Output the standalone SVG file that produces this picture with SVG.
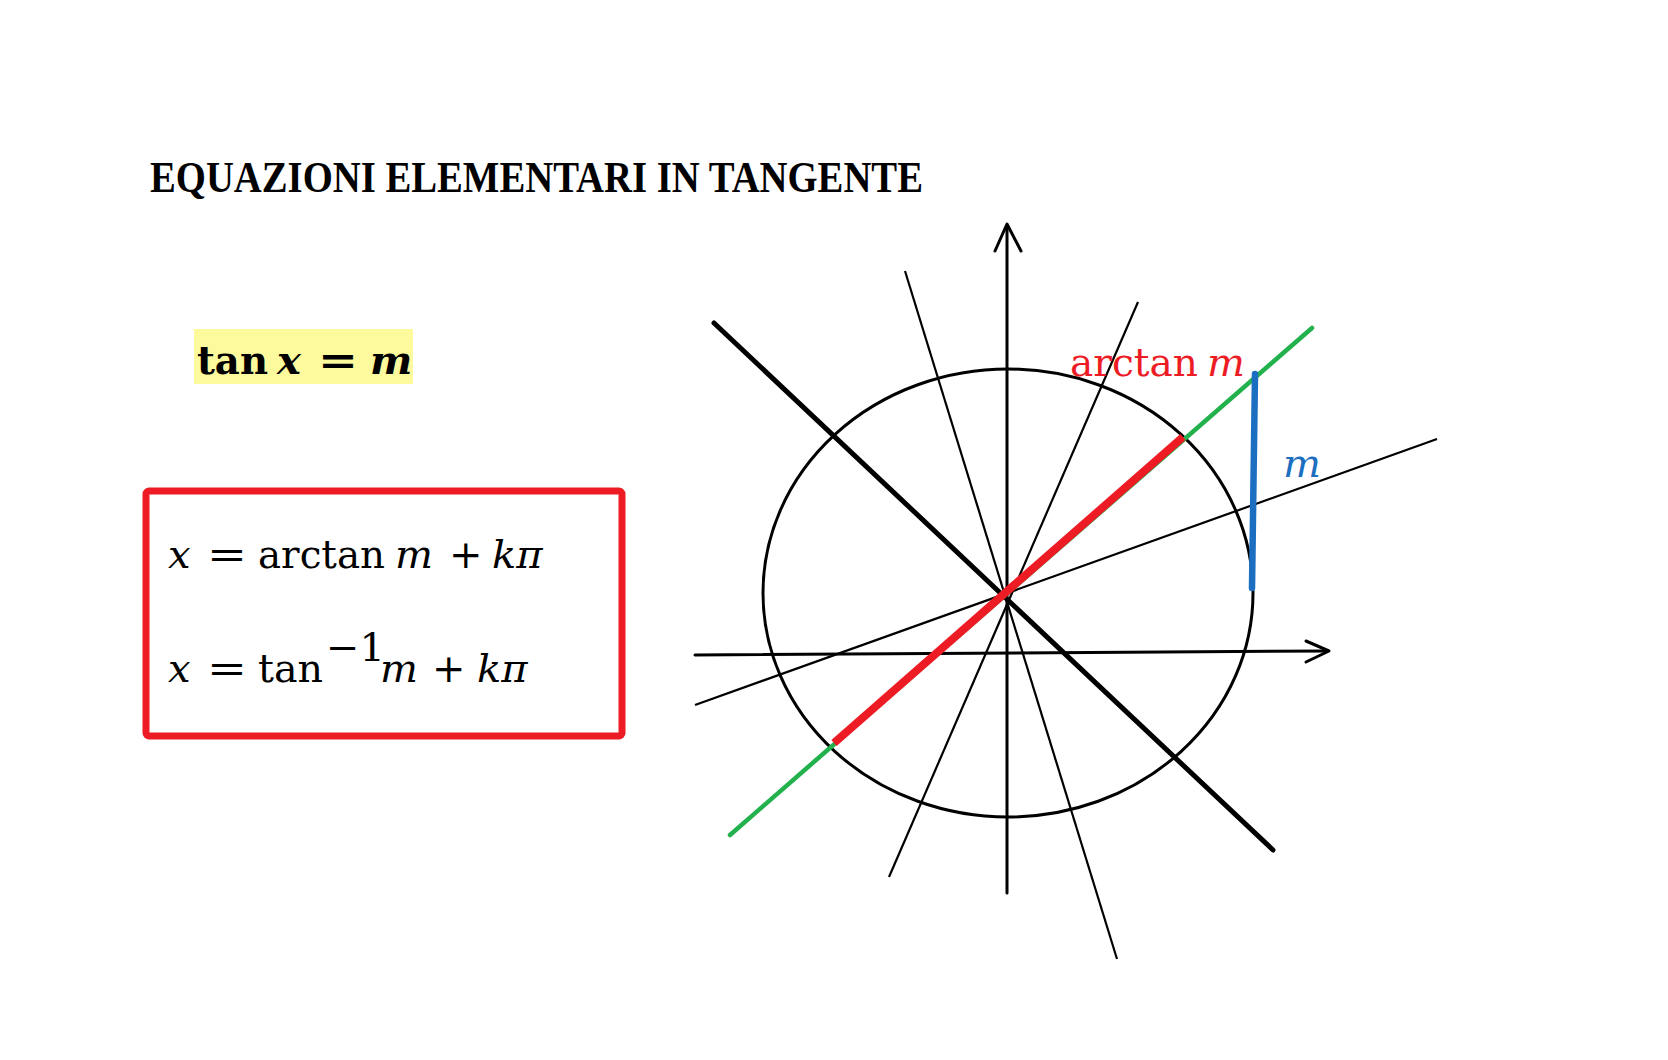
<svg xmlns="http://www.w3.org/2000/svg" width="1668" height="1060" viewBox="0 0 1668 1060">
<style>
.math{font-family:"DejaVu Serif","Liberation Serif",serif;font-size:40px;fill:#000}
.it{font-style:italic}
.ax{stroke:#000;stroke-width:3;fill:none;stroke-linecap:round;stroke-linejoin:round}
.thin{stroke:#000;stroke-width:2.2;fill:none}
.thick{stroke:#000;stroke-width:5;fill:none;stroke-linecap:round}
</style>
<rect width="1668" height="1060" fill="#fff"/>
<g id="title">
<text x="150" y="192" font-family="Liberation Serif, serif" font-weight="bold" font-size="45" textLength="773" lengthAdjust="spacingAndGlyphs">EQUAZIONI ELEMENTARI IN TANGENTE</text>
</g>
<g id="equation">
<rect x="194" y="329" width="219" height="55" fill="#fcfa9c"/>
<text class="math" font-weight="bold" y="374"><tspan x="197" textLength="71" lengthAdjust="spacingAndGlyphs">tan</tspan><tspan class="it" x="277">x</tspan><tspan x="318" textLength="40" lengthAdjust="spacingAndGlyphs">=</tspan><tspan class="it" x="370">m</tspan></text>
</g>
<g id="solutions">
<rect x="146" y="491" width="476" height="245" rx="3" fill="none" stroke="#ed1c24" stroke-width="7"/>
<text class="math" y="568"><tspan class="it" x="168">x</tspan><tspan x="207" textLength="40" lengthAdjust="spacingAndGlyphs">=</tspan><tspan x="258" textLength="127" lengthAdjust="spacingAndGlyphs">arctan</tspan><tspan class="it" x="395">m</tspan><tspan x="449">+</tspan><tspan class="it" x="492">kπ</tspan></text>
<text class="math" y="682"><tspan class="it" x="168">x</tspan><tspan x="207" textLength="40" lengthAdjust="spacingAndGlyphs">=</tspan><tspan x="258" textLength="65" lengthAdjust="spacingAndGlyphs">tan</tspan><tspan x="380" class="it">m</tspan><tspan x="432">+</tspan><tspan class="it" x="477">kπ</tspan></text>
<text class="math" font-size="22" x="326" y="661">−1</text>
</g>
<g id="circle">
<ellipse cx="1008" cy="593" rx="245" ry="224" fill="none" stroke="#000" stroke-width="3"/>
</g>
<g id="connectors">
<line class="thick" x1="714" y1="323" x2="1273" y2="850"/>
<line class="thin" x1="905" y1="271" x2="1117" y2="959"/>
<line class="thin" x1="1138" y1="302" x2="889" y2="877"/>
<line class="thin" x1="1437" y1="439" x2="695" y2="705"/>
<line x1="1007" y1="893" x2="1007" y2="226" class="ax"/>
<polyline points="995,251 1007,224 1021,251" class="ax" stroke-width="3.5"/>
<line x1="695" y1="655" x2="1327" y2="651" class="ax"/>
<polyline points="1306,641 1329,651 1306,662" class="ax" stroke-width="3.5"/>
<line x1="730" y1="835" x2="1312" y2="328" stroke="#22b14c" stroke-width="4.5" stroke-linecap="round"/>
<line x1="834" y1="743" x2="1183" y2="437" stroke="#ed1c24" stroke-width="8"/>
<line x1="1255" y1="374" x2="1252" y2="588" stroke="#1c6fc0" stroke-width="6.5" stroke-linecap="round"/>
</g>
<g id="labels">
<text class="math" style="fill:#ed1c24" y="376"><tspan x="1070" textLength="128" lengthAdjust="spacingAndGlyphs">arctan</tspan><tspan class="it" x="1207">m</tspan></text>
<text class="math it" style="fill:#1c6fc0" font-size="42" x="1283" y="477">m</text>
</g>
</svg>
